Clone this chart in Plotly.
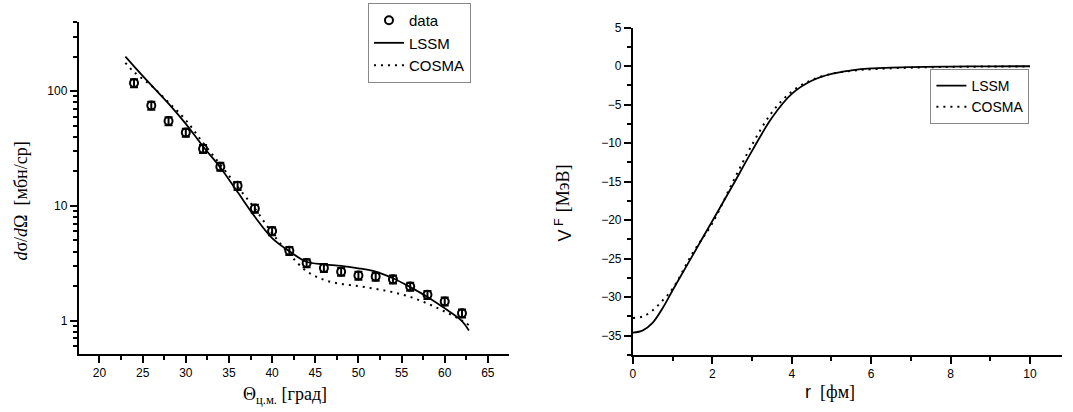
import plotly.graph_objects as go

# ---- Left panel: differential cross section ----
theta_data = [24, 26, 28, 30, 32, 34, 36, 38, 40, 42, 44, 46, 48, 50, 52, 54, 56, 58, 60, 62]
sigma_data = [118, 75, 55, 43.6, 31.5, 22, 15, 9.5, 6.05, 4.06, 3.18, 2.88, 2.67, 2.47, 2.42, 2.29, 1.98, 1.68, 1.47, 1.16]
sigma_err_pct = 8

theta_lssm = [23, 24, 26, 28, 30, 32, 34, 36, 38, 40, 42, 44, 46, 48, 50, 52, 54, 56, 58, 60, 62, 62.8]
sigma_lssm = [200, 165, 113, 78, 52, 33, 21.6, 13.2, 8.05, 5.25, 4.03, 3.26, 3.1, 3.0, 2.86, 2.67, 2.34, 1.96, 1.61, 1.28, 0.99, 0.82]

theta_cosma = [23, 24, 26, 28, 30, 32, 34, 36, 38, 40, 42, 44, 46, 48, 50, 52, 54, 56, 58, 60, 62, 63]
sigma_cosma = [177, 147, 112, 80, 56, 35.5, 23, 14.7, 9.5, 5.8, 3.8, 2.7, 2.27, 2.09, 2.0, 1.89, 1.77, 1.61, 1.41, 1.2, 1.0, 0.89]

# ---- Right panel: folding potential ----
r_vals = [0, 0.25, 0.5, 0.75, 1, 1.5, 2, 2.5, 3, 3.5, 4, 4.5, 5, 5.5, 6, 7, 8, 9, 10]
v_lssm = [-34.6, -34.3, -33.3, -31.4, -29.1, -24.6, -20.1, -15.6, -11.0, -6.7, -3.6, -1.9, -1.0, -0.55, -0.3, -0.12, -0.05, -0.02, -0.01]
v_cosma = [-32.7, -32.5, -31.7, -30.4, -28.9, -24.3, -20.4, -15.2, -10.2, -6.0, -3.3, -1.8, -1.0, -0.6, -0.4, -0.2, -0.1, -0.05, -0.03]

log_major = [1, 10, 100]
log_minor = [0.6, 0.7, 0.8, 0.9, 2, 3, 4, 5, 6, 7, 8, 9, 20, 30, 40, 50, 60, 70, 80, 90, 200, 300, 400]

W, H = 1073, 412
dot_dash = "2px,5px"

fig = go.Figure()

fig.add_trace(go.Scatter(
    x=theta_data, y=sigma_data, mode="markers", name="data",
    marker=dict(symbol="circle-open", size=8, color="black", line=dict(width=2, color="black")),
    error_y=dict(type="percent", value=sigma_err_pct, color="black", thickness=2, width=4),
    xaxis="x", yaxis="y", legend="legend"))
fig.add_trace(go.Scatter(
    x=theta_lssm, y=sigma_lssm, mode="lines", name="LSSM",
    line=dict(color="black", width=1.8, shape="spline"),
    xaxis="x", yaxis="y", legend="legend"))
fig.add_trace(go.Scatter(
    x=theta_cosma, y=sigma_cosma, mode="lines", name="COSMA",
    line=dict(color="black", width=2, dash=dot_dash, shape="spline"),
    xaxis="x", yaxis="y", legend="legend"))

fig.add_trace(go.Scatter(
    x=r_vals, y=v_lssm, mode="lines", name="LSSM",
    line=dict(color="black", width=1.8, shape="spline"),
    xaxis="x2", yaxis="y2", legend="legend2"))
fig.add_trace(go.Scatter(
    x=r_vals, y=v_cosma, mode="lines", name="COSMA",
    line=dict(color="black", width=2, dash=dot_dash, shape="spline"),
    xaxis="x2", yaxis="y2", legend="legend2"))

serif = "Liberation Serif, Times New Roman, serif"
sans = "Liberation Sans, Arial, sans-serif"

tickfont = dict(family=sans, size=12, color="black")
common = dict(showline=True, linecolor="black", linewidth=2, ticks="outside", ticklen=7,
              tickwidth=1.5, tickcolor="black", showgrid=False, zeroline=False,
              tickfont=tickfont)

fig.update_layout(
    width=W, height=H,
    margin=dict(l=0, r=0, t=0, b=0),
    paper_bgcolor="white", plot_bgcolor="white",
    showlegend=True,
    xaxis=dict(domain=[76 / W, 507 / W], range=[17.6, 67.4], tick0=20, dtick=5,
               minor=dict(ticks="outside", dtick=2.5, tick0=20, ticklen=4, tickwidth=1.5, tickcolor="black"),
               anchor="y", **common),
    yaxis=dict(domain=[1 - 353 / H, 1 - 15 / H], type="log", range=[-0.291, 2.606],
               tickmode="array", tickvals=log_major, ticktext=[str(v) for v in log_major],
               minor=dict(ticks="outside", tickmode="array", tickvals=log_minor, ticklen=4, tickwidth=1.5, tickcolor="black"),
               anchor="x", **common),
    xaxis2=dict(domain=[631.7 / W, 1061.7 / W], range=[0, 10.8], tick0=0, dtick=2,
                minor=dict(ticks="outside", dtick=1, tick0=0, ticklen=4, tickwidth=1.5, tickcolor="black"),
                anchor="y2", **common),
    yaxis2=dict(domain=[1 - 354 / H, 1 - 21 / H], range=[-37.5, 5], tick0=0, dtick=5,
                minor=dict(ticks="outside", dtick=2.5, tick0=0, ticklen=4, tickwidth=1.5, tickcolor="black"),
                anchor="x2", **common),
    legend=dict(x=366 / W, y=1 + 4 / H, xanchor="left", yanchor="top",
                bgcolor="white", bordercolor="#888888", borderwidth=1,
                font=dict(family=sans, size=15, color="black"),
                tracegroupgap=0, itemwidth=30),
    legend2=dict(x=930 / W, y=1 - 63 / H, xanchor="left", yanchor="top",
                 bgcolor="white", bordercolor="#888888", borderwidth=1,
                 font=dict(family=sans, size=14, color="black"),
                 tracegroupgap=0, itemwidth=30),
)

fig.add_annotation(
    xref="paper", yref="paper", x=18 / W, y=1 - 197 / H, xanchor="center", yanchor="middle",
    textangle=-90, showarrow=False,
    text="<i>d</i>σ/<i>d</i>Ω  [мбн/ср]",
    font=dict(family=serif, size=18, color="black"))
fig.add_annotation(
    xref="paper", yref="paper", x=283 / W, y=1 - 395 / H, xanchor="center", yanchor="middle",
    showarrow=False,
    text="Θ<sub>ц.м.</sub> [град]",
    font=dict(family=serif, size=18, color="black"))
# right x title: "r" (sans) + "[фм]" (serif)
fig.add_annotation(
    xref="paper", yref="paper", x=807 / W, y=1 - 392 / H, xanchor="center", yanchor="middle",
    showarrow=False, text="r",
    font=dict(family=sans, size=18, color="black"))
fig.add_annotation(
    xref="paper", yref="paper", x=837 / W, y=1 - 392 / H, xanchor="center", yanchor="middle",
    showarrow=False, text="[фм]",
    font=dict(family=serif, size=18, color="black"))
# right y title: "V^F" (sans) + "[МэВ]" (serif)
fig.add_annotation(
    xref="paper", yref="paper", x=562 / W, y=1 - 226 / H, xanchor="center", yanchor="middle",
    textangle=-90, showarrow=False, text="V<sup> F</sup>",
    font=dict(family=sans, size=18, color="black"))
fig.add_annotation(
    xref="paper", yref="paper", x=561 / W, y=1 - 184 / H, xanchor="center", yanchor="middle",
    textangle=-90, showarrow=False, text="[МэВ]",
    font=dict(family=serif, size=18, color="black"))

fig.write_html("out.html")
